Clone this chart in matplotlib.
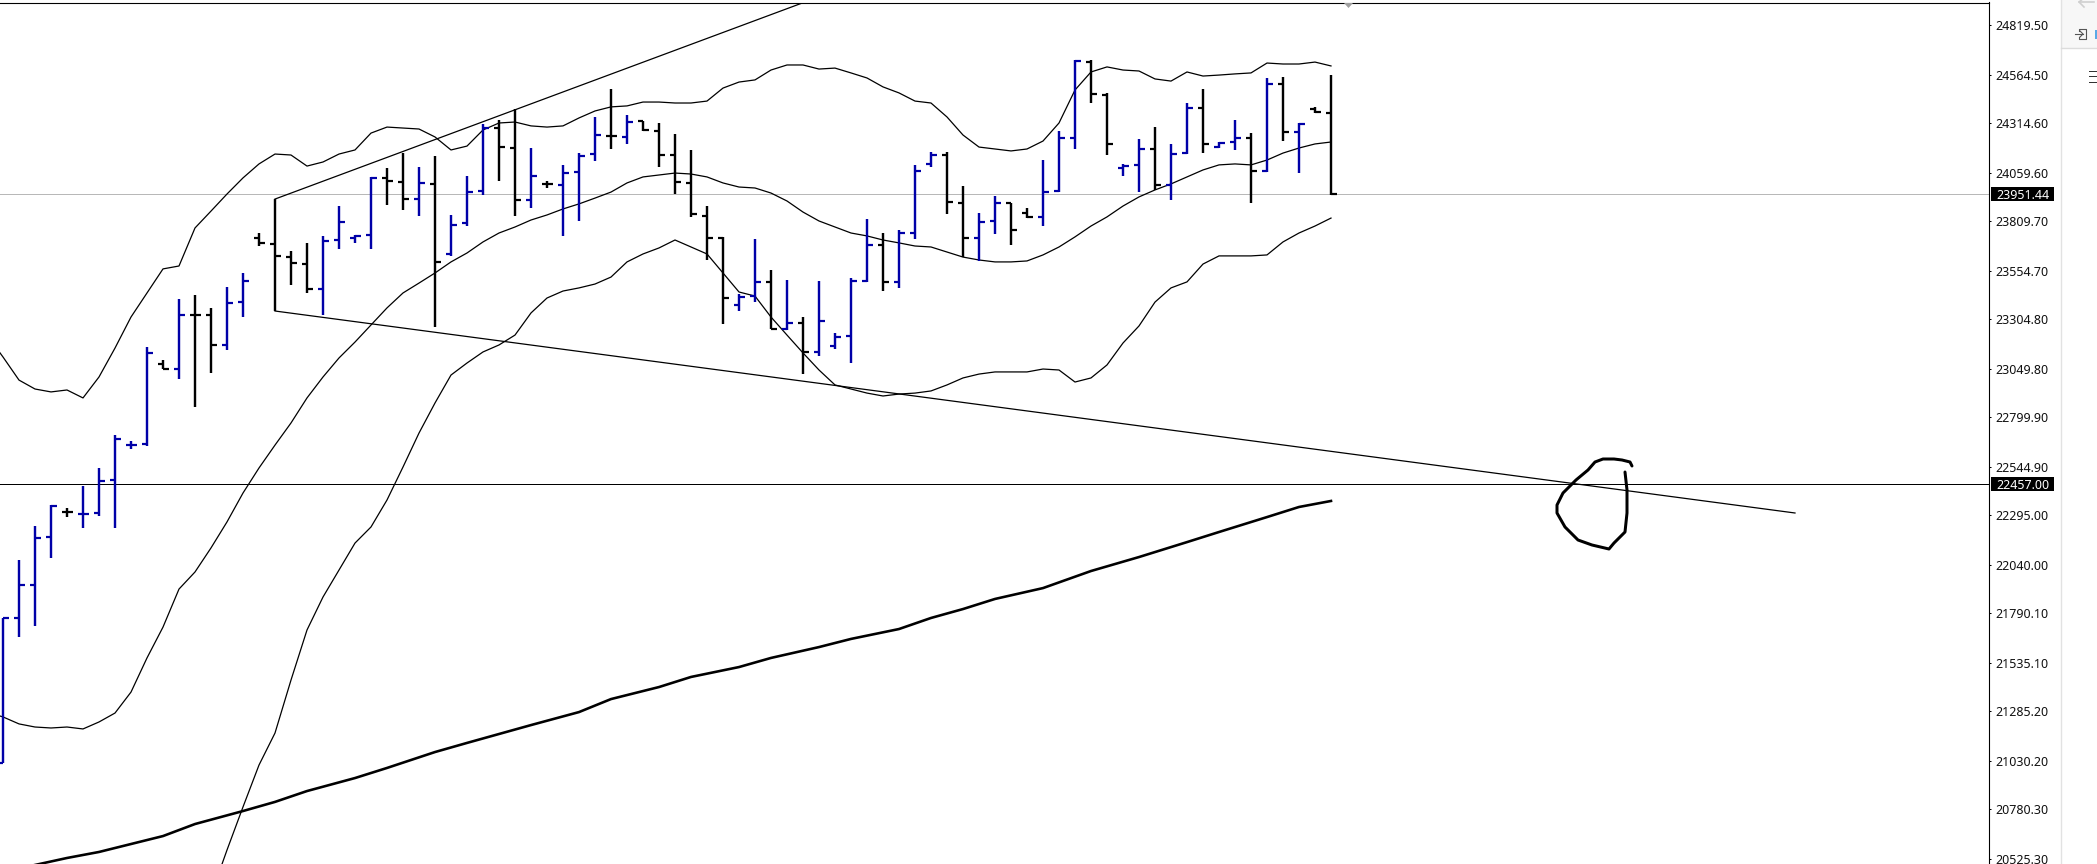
"""
Bar chart of an index with bands, a slow average, trend lines
and a hand-drawn mark, copied from a trading terminal screenshot.

"""

import numpy as np

import matplotlib
matplotlib.use("Agg")

import matplotlib.pyplot as plt
from matplotlib.patches import Polygon, Rectangle
from matplotlib.transforms import blended_transform_factory

plt.rcParams["font.family"] = ["Noto Sans", "DejaVu Sans"]

# ------------------------------------ price bars, one per session

bar_high = [
    21766, 22065, 22240, 22348, 22333, 22446, 22539, 22709, 22678, 23163,
    23096, 23410, 23431, 23364, 23472, 23544, 23750, 23925, 23657, 23699,
    23735, 23889, 23740, 24039, 24085, 24162, 24090, 24147, 23843, 24044,
    24312, 24333, 24389, 24188, 24018, 24101, 24162, 24348, 24492, 24358,
    24327, 24317, 24260, 24178, 23889, 23730, 23436, 23719, 23559, 23508,
    23317, 23503, 23235, 23518, 23822, 23750, 23766, 24101, 24168, 24168,
    23992, 23853, 23941, 23905, 23879, 24126, 24276, 24642, 24642, 24472,
    24106, 24235, 24296, 24209, 24420, 24492, 24219, 24333, 24266, 24549,
    24554, 24317, 24400, 24565]

bar_low = [
    21019, 21668, 21725, 22075, 22286, 22230, 22292, 22230, 22637, 22652,
    23049, 22998, 22853, 23029, 23147, 23317, 23683, 23348, 23482, 23441,
    23328, 23668, 23699, 23668, 23894, 23869, 23838, 23266, 23632, 23786,
    23946, 24018, 23838, 23879, 23982, 23735, 23812, 24121, 24183, 24209,
    24276, 24090, 23951, 23833, 23611, 23281, 23348, 23394, 23255, 23250,
    23023, 23116, 23152, 23080, 23498, 23451, 23467, 23719, 24090, 23848,
    23626, 23606, 23745, 23688, 23827, 23786, 23961, 24183, 24420, 24152,
    24044, 23961, 23972, 23920, 24157, 24162, 24188, 24178, 23905, 24065,
    24224, 24059, 24369, 23946]

bar_open = [
    21019, 21766, 21936, 22183, 22313, 22302, 22307, 22477, 22657, 22663,
    23075, 23049, 23328, 23327, 23173, 23394, 23724, 23693, 23626, 23590,
    23462, 23714, 23724, 23740, 24034, 24013, 23925, 24003, 23642, 23802,
    23967, 24291, 24188, 23920, 24003, 23998, 24065, 24157, 24250, 24245,
    24327, 24276, 24152, 24008, 23838, 23724, 23379, 23425, 23498, 23255,
    23286, 23137, 23168, 23219, 23503, 23688, 23498, 23750, 24106, 24152,
    23905, 23724, 23812, 23905, 23853, 23833, 23967, 24240, 24632, 24461,
    24085, 24101, 24183, 23998, 24162, 24394, 24193, 24219, 24240, 24070,
    24518, 24271, 24389, 24369]

bar_close = [
    21766, 21936, 22178, 22343, 22312, 22303, 22472, 22688, 22658, 23132,
    23049, 23327, 23327, 23173, 23389, 23503, 23699, 23632, 23596, 23462,
    23709, 23807, 23735, 24034, 24018, 23925, 24008, 23601, 23791, 23961,
    24291, 24193, 23920, 24044, 24002, 24059, 24147, 24255, 24249, 24322,
    24281, 24152, 24013, 23848, 23724, 23415, 23420, 23498, 23255, 23286,
    23137, 23297, 23214, 23503, 23688, 23498, 23750, 24070, 24152, 23910,
    23724, 23807, 23905, 23766, 23833, 23961, 24240, 24637, 24466, 24209,
    24095, 24183, 23998, 24157, 24394, 24209, 24214, 24240, 24070, 24518,
    24271, 24312, 24374, 23951]

# ------------------------------------ bands, first point one bar off-screen

band_upper = [
    23224, 23111, 22992, 22946, 22931, 22941, 22900, 23008, 23157, 23317,
    23441, 23565, 23580, 23776, 23863, 23951, 24034, 24106, 24157, 24152,
    24095, 24116, 24157, 24178, 24265, 24296, 24291, 24286, 24245, 24178,
    24198, 24281, 24317, 24322, 24302, 24296, 24302, 24343, 24379, 24400,
    24405, 24425, 24425, 24420, 24420, 24430, 24497, 24528, 24539, 24590,
    24616, 24616, 24595, 24600, 24575, 24549, 24503, 24472, 24430, 24420,
    24348, 24255, 24193, 24183, 24173, 24183, 24224, 24317, 24487, 24580,
    24606, 24590, 24585, 24544, 24533, 24580, 24559, 24564, 24570, 24575,
    24626, 24621, 24621, 24631, 24611]

band_mid = [
    21281, 21256, 21220, 21204, 21199, 21204, 21194, 21230, 21276, 21384,
    21560, 21719, 21915, 22003, 22127, 22261, 22410, 22539, 22657, 22771,
    22900, 23008, 23106, 23188, 23276, 23364, 23441, 23492, 23544, 23601,
    23647, 23704, 23750, 23781, 23817, 23843, 23874, 23900, 23930, 23961,
    24008, 24039, 24049, 24059, 24054, 24039, 24008, 23987, 23982, 23956,
    23915, 23858, 23812, 23781, 23750, 23735, 23714, 23699, 23683, 23678,
    23652, 23626, 23611, 23601, 23601, 23606, 23637, 23678, 23730, 23786,
    23833, 23889, 23936, 23972, 24003, 24039, 24075, 24101, 24106, 24101,
    24126, 24162, 24188, 24209, 24219]

# lower band runs off the bottom of the chart before bar 14
band_lower = [
    20338, 20570, 20792, 21008, 21173, 21446, 21704, 21874, 22013, 22152,
    22235, 22374, 22544, 22719, 22874, 23018, 23080, 23137, 23173, 23224,
    23338, 23415, 23451, 23467, 23487, 23523, 23601, 23642, 23673, 23714,
    23678, 23642, 23544, 23446, 23425, 23317, 23224, 23132, 23044, 22967,
    22946, 22925, 22910, 22920, 22925, 22936, 22967, 23003, 23023, 23034,
    23034, 23034, 23049, 23044, 22982, 23003, 23070, 23183, 23271, 23394,
    23467, 23498, 23590, 23632, 23632, 23632, 23637, 23704, 23750, 23786,
    23827]

# ------------------------------------ slow average, read at these bars

slow_index = [2, 4, 6, 8, 10, 12, 15, 17, 19, 22,
              24, 27, 29, 31, 33, 36, 38, 41, 43, 46,
              48, 51, 53, 56, 58, 60, 62, 65, 68, 71,
              74, 76, 79, 81, 83]

slow_value = [
    20493, 20529, 20560, 20601, 20642, 20704, 20771, 20818, 20874, 20941,
    20993, 21075, 21122, 21168, 21214, 21281, 21348, 21410, 21462, 21513,
    21560, 21616, 21658, 21709, 21766, 21812, 21864, 21920, 22008, 22080,
    22157, 22209, 22286, 22338, 22369]

# ------------------------------------ drawn lines and axis text

trend_upper_x = [17.0, 49.94]
trend_upper_y = [23925.0, 24935.0]
trend_lower_x = [17.0, 112.0]
trend_lower_y = [23348.0, 22307.0]

last_price = 23951.44
level_price = 22457.00

axis_ticks = [
    24819.50, 24564.50, 24314.60, 24059.60, 23809.70, 23554.70,
    23304.80, 23049.80, 22799.90, 22544.90, 22295.00, 22040.00,
    21790.10, 21535.10, 21285.20, 21030.20, 20780.30, 20525.30]

# hand-drawn ring, in screen pixels as it was sketched on the screenshot
ring_x = [1632, 1630, 1622, 1614, 1603, 1595, 1588, 1576, 1563, 1557, 1557,
          1565, 1578, 1592, 1609, 1614, 1625, 1627, 1627, 1625]
ring_y = [466, 462, 460, 459, 459, 462, 470, 480, 493, 505, 513,
          527, 540, 545, 549, 543, 532, 513, 490, 472]

BLUE = "#0000a8"
PX = 0.72   # one screen pixel, in points


def main():

    wide = 2097
    high = 864

    fig = plt.figure(figsize=(wide / 100., high / 100.), dpi=100)
    fig.patch.set_facecolor("white")

    axi = fig.add_axes([0., 0., 1989. / wide, (high - 2.5) / high])

    axi.set_xlim(-3. / 16., 1986. / 16.)
    axi.set_ylim(20498., 24938.)

# ------------------------------------ levels behind everything

    axi.axhline(last_price, color="#b8b8b8", lw=1. * PX, zorder=1)
    axi.axhline(level_price, color="black", lw=1. * PX, zorder=1)

# ------------------------------------ bands and average

    nband = len(band_upper)
    xband = np.arange(nband) - 1

    thin = dict(color="black", lw=1.25 * PX, zorder=2)

    axi.plot(xband, band_upper, **thin)
    axi.plot(xband, band_mid, **thin)
    axi.plot(xband[-len(band_lower):], band_lower, **thin)

    axi.plot(slow_index, slow_value, color="black", lw=2.6 * PX, zorder=2)

    axi.plot(trend_upper_x, trend_upper_y, **thin)
    axi.plot(trend_lower_x, trend_lower_y, **thin)

# ------------------------------------ OHLC bars

    xbar = np.arange(len(bar_high))
    popen = np.array(bar_open)
    pclose = np.array(bar_close)

    cols = [BLUE if up else "black" for up in pclose > popen]

    axi.vlines(xbar, bar_low, bar_high, colors=cols,
               lw=2.4 * PX, capstyle="butt", zorder=3)
    axi.hlines(popen, xbar - 0.31, xbar, colors=cols,
               lw=2.2 * PX, capstyle="butt", zorder=3)
    axi.hlines(pclose, xbar, xbar + 0.37, colors=cols,
               lw=2.2 * PX, capstyle="butt", zorder=3)

# ------------------------------------ price axis on the right

    for side in ("left", "bottom"):
        axi.spines[side].set_visible(False)
    for side in ("top", "right"):
        axi.spines[side].set_linewidth(1.1 * PX)

    axi.set_xticks([])
    axi.yaxis.tick_right()
    axi.set_yticks(axis_ticks)
    axi.set_yticklabels(["%.2f" % tick for tick in axis_ticks])
    axi.tick_params(axis="y", length=2. * PX, width=1. * PX,
                    pad=3.4, labelsize=9.0, labelcolor="#111111")

    mix = blended_transform_factory(axi.transAxes, axi.transData)

    for price in (last_price, level_price):
        axi.add_patch(Rectangle(
            (1991. / 1989., price - 37.), 63. / 1989., 74.,
            transform=mix, facecolor="black", edgecolor="none",
            clip_on=False, zorder=6))
        axi.text(1996. / 1989., price, "%.2f" % price,
                 transform=mix, color="white", fontsize=9.0,
                 va="center_baseline", ha="left", zorder=7)

# ------------------------------------ screen furniture and sketch

    top = fig.add_axes([0., 0., 1., 1.])
    top.set_xlim(0., wide)
    top.set_ylim(high, 0.)
    top.axis("off")
    top.patch.set_alpha(0.)

    top.plot(ring_x, ring_y, color="black", lw=3. * PX,
             solid_capstyle="round", solid_joinstyle="round")

    top.add_patch(Polygon(
        [[1344, 3], [1353, 3], [1348.5, 8]],
        facecolor="#a0a0a0", edgecolor="none"))

    top.add_patch(Rectangle(
        (2061, 0), 36, 48, facecolor="#f7f7f7", edgecolor="none"))
    top.plot([2061, 2061], [0, high], color="#e2e2e2", lw=1.4 * PX)
    top.plot([2061, wide], [48, 48], color="#dcdcdc", lw=1.4 * PX)

    top.plot([2079, 2094], [2, 2], color="#cfcfcf", lw=1.6 * PX)
    top.plot([2084, 2079, 2084], [-2, 2, 7], color="#cfcfcf", lw=1.6 * PX)

    top.plot([2075, 2083], [34, 34], color="#555555", lw=1.1 * PX)
    top.plot([2080, 2083, 2080], [31, 34, 37], color="#555555", lw=1.1 * PX)
    top.plot([2079, 2079, 2086, 2086, 2079, 2079], [31, 29, 29, 39, 39, 37],
             color="#555555", lw=1.1 * PX)
    top.add_patch(Rectangle(
        (2095, 30), 2, 9, facecolor="#5aa9e6", edgecolor="none"))

    for ypos in (71, 76, 82):
        top.plot([2089, wide], [ypos, ypos], color="#333333", lw=1. * PX)

    fig.savefig("out.png", dpi=100)


if __name__ == "__main__":
    main()
